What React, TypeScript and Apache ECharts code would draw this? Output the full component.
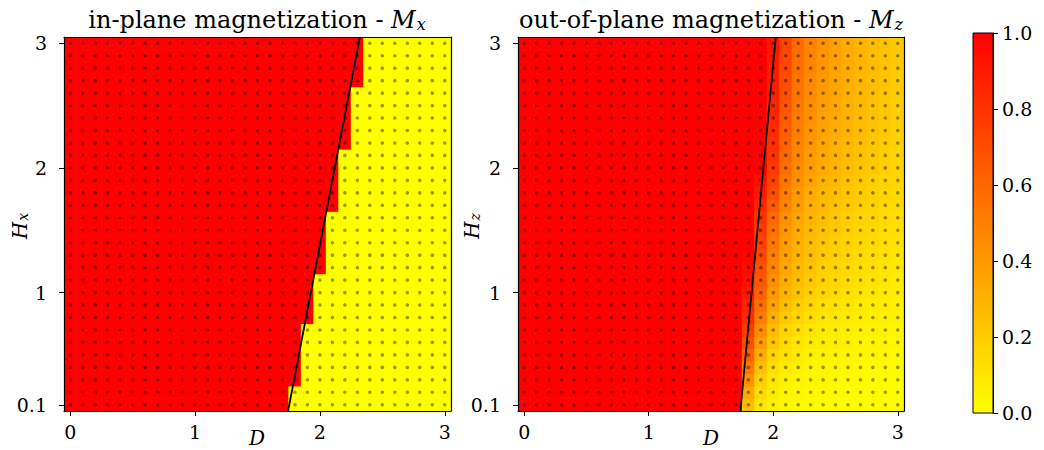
import React, { useEffect, useRef } from 'react';
import * as echarts from 'echarts';

// ---------- data ----------
const D_GRID = [0, 0.1, 0.2, 0.3, 0.4, 0.5, 0.6, 0.7, 0.8, 0.9, 1.0, 1.1, 1.2, 1.3, 1.4, 1.5, 1.6, 1.7, 1.8, 1.9, 2.0, 2.1, 2.2, 2.3, 2.4, 2.5, 2.6, 2.7, 2.8, 2.9, 3.0];
const H_GRID = [0.1, 0.2, 0.3, 0.4, 0.5, 0.6, 0.7, 0.8, 0.9, 1.0, 1.1, 1.2, 1.3, 1.4, 1.5, 1.6, 1.7, 1.8, 1.9, 2.0, 2.1, 2.2, 2.3, 2.4, 2.5, 2.6, 2.7, 2.8, 2.9, 3.0];

// Mx: last D (per H row) that is fully magnetized in-plane (value 1); beyond it value 0
const MX_LAST_RED_D = [1.7, 1.7, 1.8, 1.8, 1.8, 1.8, 1.8, 1.9, 1.9, 1.9, 1.9, 2.0, 2.0, 2.0, 2.0, 2.0, 2.1, 2.1, 2.1, 2.1, 2.1, 2.2, 2.2, 2.2, 2.2, 2.2, 2.3, 2.3, 2.3, 2.3];

// Mz: cells with D < 1.8 are 1; these rows give D = 1.8 ... 3.0 for H = 0.1 ... 3.0
const MZ_TAIL_START_D = 1.8;
const MZ_TAIL = [
  [0.25, 0.10, 0.05, 0.03, 0.02, 0.02, 0.01, 0.01, 0.01, 0.01, 0.01, 0.01, 0.01],
  [0.34, 0.14, 0.07, 0.04, 0.03, 0.02, 0.02, 0.02, 0.01, 0.01, 0.01, 0.01, 0.01],
  [0.43, 0.19, 0.09, 0.06, 0.04, 0.03, 0.03, 0.02, 0.02, 0.02, 0.01, 0.01, 0.01],
  [0.53, 0.25, 0.13, 0.08, 0.06, 0.04, 0.04, 0.03, 0.03, 0.02, 0.02, 0.02, 0.02],
  [0.62, 0.32, 0.17, 0.11, 0.08, 0.06, 0.05, 0.04, 0.04, 0.03, 0.03, 0.03, 0.02],
  [0.70, 0.39, 0.22, 0.14, 0.10, 0.08, 0.07, 0.06, 0.05, 0.04, 0.04, 0.03, 0.03],
  [0.76, 0.45, 0.26, 0.17, 0.13, 0.10, 0.08, 0.07, 0.06, 0.05, 0.05, 0.04, 0.04],
  [0.82, 0.51, 0.31, 0.21, 0.16, 0.13, 0.10, 0.09, 0.08, 0.07, 0.06, 0.05, 0.05],
  [0.87, 0.57, 0.36, 0.25, 0.19, 0.16, 0.13, 0.11, 0.10, 0.08, 0.07, 0.07, 0.06],
  [0.91, 0.62, 0.40, 0.29, 0.23, 0.19, 0.16, 0.14, 0.12, 0.10, 0.09, 0.08, 0.07],
  [0.94, 0.66, 0.44, 0.32, 0.25, 0.21, 0.18, 0.15, 0.13, 0.12, 0.10, 0.09, 0.08],
  [0.96, 0.69, 0.47, 0.35, 0.27, 0.23, 0.19, 0.17, 0.15, 0.13, 0.12, 0.10, 0.09],
  [0.98, 0.72, 0.50, 0.37, 0.29, 0.25, 0.21, 0.18, 0.16, 0.14, 0.13, 0.11, 0.10],
  [1.00, 0.75, 0.53, 0.39, 0.31, 0.26, 0.22, 0.19, 0.17, 0.15, 0.14, 0.12, 0.11],
  [1.00, 0.78, 0.56, 0.41, 0.33, 0.28, 0.24, 0.21, 0.18, 0.16, 0.15, 0.13, 0.12],
  [1.00, 0.81, 0.59, 0.44, 0.35, 0.29, 0.25, 0.22, 0.19, 0.17, 0.16, 0.14, 0.13],
  [1.00, 0.85, 0.64, 0.48, 0.38, 0.31, 0.27, 0.23, 0.21, 0.19, 0.17, 0.15, 0.14],
  [1.00, 0.90, 0.70, 0.51, 0.40, 0.33, 0.28, 0.25, 0.22, 0.20, 0.18, 0.16, 0.15],
  [1.00, 0.95, 0.74, 0.54, 0.43, 0.36, 0.30, 0.27, 0.24, 0.21, 0.19, 0.17, 0.16],
  [1.00, 1.00, 0.78, 0.57, 0.45, 0.38, 0.33, 0.29, 0.26, 0.23, 0.21, 0.19, 0.17],
  [1.00, 1.00, 0.80, 0.59, 0.47, 0.39, 0.34, 0.30, 0.27, 0.24, 0.22, 0.19, 0.17],
  [1.00, 1.00, 0.82, 0.61, 0.48, 0.41, 0.35, 0.31, 0.28, 0.25, 0.22, 0.20, 0.18],
  [1.00, 1.00, 0.83, 0.63, 0.50, 0.42, 0.36, 0.32, 0.29, 0.26, 0.23, 0.21, 0.18],
  [1.00, 1.00, 0.85, 0.65, 0.51, 0.43, 0.37, 0.33, 0.30, 0.26, 0.24, 0.21, 0.19],
  [1.00, 1.00, 0.86, 0.67, 0.53, 0.44, 0.38, 0.34, 0.30, 0.27, 0.24, 0.22, 0.19],
  [1.00, 1.00, 0.88, 0.69, 0.54, 0.45, 0.39, 0.35, 0.31, 0.28, 0.25, 0.22, 0.20],
  [1.00, 1.00, 0.89, 0.70, 0.55, 0.46, 0.40, 0.35, 0.32, 0.28, 0.25, 0.23, 0.20],
  [1.00, 1.00, 0.90, 0.72, 0.56, 0.47, 0.41, 0.36, 0.32, 0.29, 0.26, 0.23, 0.20],
  [1.00, 1.00, 0.91, 0.73, 0.57, 0.48, 0.42, 0.37, 0.33, 0.29, 0.26, 0.23, 0.21],
  [1.00, 1.00, 0.92, 0.74, 0.58, 0.49, 0.42, 0.37, 0.33, 0.29, 0.26, 0.23, 0.21],
];

// boundary lines (D at the bottom and top of the H range)
const BOUNDARY_H = [0.05, 3.05];
const MX_BOUNDARY_D = [1.745, 2.32];
const MZ_BOUNDARY_D = [1.736, 2.02];

const X_TICKS = [0, 1, 2, 3];
const Y_TICKS = [0.1, 1, 2, 3];
const CBAR_TICKS = [0, 0.2, 0.4, 0.6, 0.8, 1.0];

// ---------- helpers ----------
const FONT = "'DejaVu Serif', serif";
const cmap = (v: number) => `rgb(255,${Math.round(255 * (1 - v))},0)`;

function buildMx() {
  const out: number[][] = [];
  H_GRID.forEach((h, r) => {
    D_GRID.forEach((d) => {
      out.push([d, h, d <= MX_LAST_RED_D[r] + 1e-9 ? 1 : 0]);
    });
  });
  return out;
}
function buildMz() {
  const out: number[][] = [];
  const startIdx = D_GRID.indexOf(MZ_TAIL_START_D);
  H_GRID.forEach((h, r) => {
    D_GRID.forEach((d, c) => {
      const v = c < startIdx ? 1 : MZ_TAIL[r][c - startIdx];
      out.push([d, h, v]);
    });
  });
  return out;
}
function buildDots() {
  const out: number[][] = [];
  H_GRID.forEach((h) => D_GRID.forEach((d) => out.push([d, h])));
  return out;
}

const cellRender = (params: any, api: any) => {
  const d = api.value(0);
  const h = api.value(1);
  const v = api.value(2);
  const p0 = api.coord([d - 0.05, h + 0.05]);
  const p1 = api.coord([d + 0.05, h - 0.05]);
  const c = cmap(v);
  const pad = 0.35;
  return {
    type: 'rect',
    shape: { x: p0[0] - pad, y: p0[1] - pad, width: p1[0] - p0[0] + 2 * pad, height: p1[1] - p0[1] + 2 * pad },
    style: { fill: c },
  };
};

const axisLineStyle = { color: '#000', width: 1.2 };
const TICK_FONT = 19;

function xAxes(gi: number) {
  return [
    {
      gridIndex: gi, type: 'value', min: -0.05, max: 3.05, position: 'bottom', z: 10,
      axisLine: { show: true, onZero: false, lineStyle: axisLineStyle },
      axisTick: { show: true, customValues: X_TICKS, length: 5, lineStyle: { color: '#000', width: 1 } },
      axisLabel: { show: true, customValues: X_TICKS, margin: 11, color: '#000', fontFamily: FONT, fontSize: TICK_FONT, formatter: (v: number) => String(Math.round(v)) },
      splitLine: { show: false },
    },
    {
      gridIndex: gi, type: 'value', min: -0.05, max: 3.05, position: 'top', z: 10,
      axisLine: { show: true, onZero: false, lineStyle: axisLineStyle },
      axisTick: { show: false }, axisLabel: { show: false }, splitLine: { show: false },
    },
  ];
}
function yAxes(gi: number) {
  return [
    {
      gridIndex: gi, type: 'value', min: 0.05, max: 3.05, position: 'left', z: 10,
      axisLine: { show: true, onZero: false, lineStyle: axisLineStyle },
      axisTick: { show: true, customValues: Y_TICKS, length: 5, lineStyle: { color: '#000', width: 1 } },
      axisLabel: { show: true, customValues: Y_TICKS, margin: 17, color: '#000', fontFamily: FONT, fontSize: TICK_FONT, formatter: (v: number) => (v < 0.5 ? '0.1' : String(Math.round(v))) },
      splitLine: { show: false },
    },
    {
      gridIndex: gi, type: 'value', min: 0.05, max: 3.05, position: 'right', z: 10,
      axisLine: { show: true, onZero: false, lineStyle: axisLineStyle },
      axisTick: { show: false }, axisLabel: { show: false }, splitLine: { show: false },
    },
  ];
}

const richTitle = {
  r: { fontFamily: FONT, fontSize: 24, color: '#000', lineHeight: 28, verticalAlign: 'bottom' },
  i: { fontFamily: FONT, fontSize: 24, fontStyle: 'italic', color: '#000', lineHeight: 28, verticalAlign: 'bottom' },
  s: { fontFamily: FONT, fontSize: 16, fontStyle: 'italic', color: '#000', lineHeight: 17, verticalAlign: 'bottom', padding: [0, 0, 0, 1] },
};
const richLabel = {
  i: { fontFamily: FONT, fontSize: 20, fontStyle: 'italic', color: '#000', lineHeight: 22, verticalAlign: 'bottom' },
  s: { fontFamily: FONT, fontSize: 14, fontStyle: 'italic', color: '#000', lineHeight: 15, verticalAlign: 'bottom', padding: [0, 0, 0, 1] },
};

function textEl(x: number, y: number, text: string, rich: any, rotation = 0) {
  return {
    type: 'text', x, y, rotation, z: 100,
    style: { text, rich, align: 'center', textAlign: 'center', verticalAlign: 'middle', textVerticalAlign: 'middle', fill: '#000' },
  };
}

export default function App() {
  const ref = useRef<HTMLDivElement>(null);
  useEffect(() => {
    if (!ref.current) return;
    const chart = echarts.init(ref.current, null, { renderer: 'svg' });
    const dots = buildDots();
    const option: any = {
      animation: false,
      backgroundColor: '#fff',
      grid: [
        { left: 64, top: 37, width: 387, height: 374 },
        { left: 518, top: 37, width: 386, height: 374 },
        { left: 973, top: 33, width: 20, height: 380 },
      ],
      xAxis: [
        ...xAxes(0),
        ...xAxes(1),
        { gridIndex: 2, type: 'value', min: 0, max: 1, show: false },
      ],
      yAxis: [
        ...yAxes(0),
        ...yAxes(1),
        {
          gridIndex: 2, type: 'value', min: 0, max: 1, interval: 0.2, position: 'right', z: 10,
          axisLine: { show: true, onZero: false, lineStyle: { color: '#000', width: 1 } },
          axisTick: { show: true, customValues: CBAR_TICKS, length: 5, lineStyle: { color: '#000', width: 1 } },
          axisLabel: { show: true, customValues: CBAR_TICKS, margin: 9, color: '#000', fontFamily: FONT, fontSize: TICK_FONT, formatter: (v: number) => v.toFixed(1) },
          splitLine: { show: false },
        },
      ],
      series: [
        { type: 'custom', xAxisIndex: 0, yAxisIndex: 0, renderItem: cellRender, data: buildMx(), encode: { x: 0, y: 1 }, clip: true, silent: true, z: 1 },
        { type: 'scatter', xAxisIndex: 0, yAxisIndex: 0, data: dots, symbolSize: 3.6, itemStyle: { color: 'rgba(0,0,0,0.5)' }, silent: true, z: 3 },
        { type: 'line', xAxisIndex: 0, yAxisIndex: 0, data: MX_BOUNDARY_D.map((d, i) => [d, BOUNDARY_H[i]]), symbol: 'none', lineStyle: { color: '#000', width: 1.8 }, clip: true, silent: true, z: 5 },
        { type: 'custom', xAxisIndex: 2, yAxisIndex: 2, renderItem: cellRender, data: buildMz(), encode: { x: 0, y: 1 }, clip: true, silent: true, z: 1 },
        { type: 'scatter', xAxisIndex: 2, yAxisIndex: 2, data: dots, symbolSize: 3.6, itemStyle: { color: 'rgba(0,0,0,0.5)' }, silent: true, z: 3 },
        { type: 'line', xAxisIndex: 2, yAxisIndex: 2, data: MZ_BOUNDARY_D.map((d, i) => [d, BOUNDARY_H[i]]), symbol: 'none', lineStyle: { color: '#000', width: 1.8 }, clip: true, silent: true, z: 5 },
        {
          type: 'custom', xAxisIndex: 4, yAxisIndex: 4, data: [[0, 0]], silent: true, z: 1,
          renderItem: (params: any) => {
            const cs = params.coordSys;
            return {
              type: 'rect',
              shape: { x: cs.x, y: cs.y, width: cs.width, height: cs.height },
              style: {
                fill: new echarts.graphic.LinearGradient(0, 0, 0, 1, [
                  { offset: 0, color: cmap(1) },
                  { offset: 1, color: cmap(0) },
                ]),
                stroke: '#000', lineWidth: 1,
              },
            };
          },
        },
      ],
      graphic: [
        textEl(257, 18, '{r|in-plane magnetization - }{i|M}{s|x}', richTitle),
        textEl(711, 18, '{r|out-of-plane magnetization - }{i|M}{s|z}', richTitle),
        textEl(257, 437, '{i|D}', richLabel),
        textEl(711, 437, '{i|D}', richLabel),
        textEl(19, 226, '{i|H}{s|x}', richLabel, Math.PI / 2),
        textEl(471, 226, '{i|H}{s|z}', richLabel, Math.PI / 2),
      ],
    };
    chart.setOption(option);
    return () => chart.dispose();
  }, []);
  return <div ref={ref} style={{ position: 'absolute', left: 0, top: 0, width: 1044, height: 450 }} />;
}
